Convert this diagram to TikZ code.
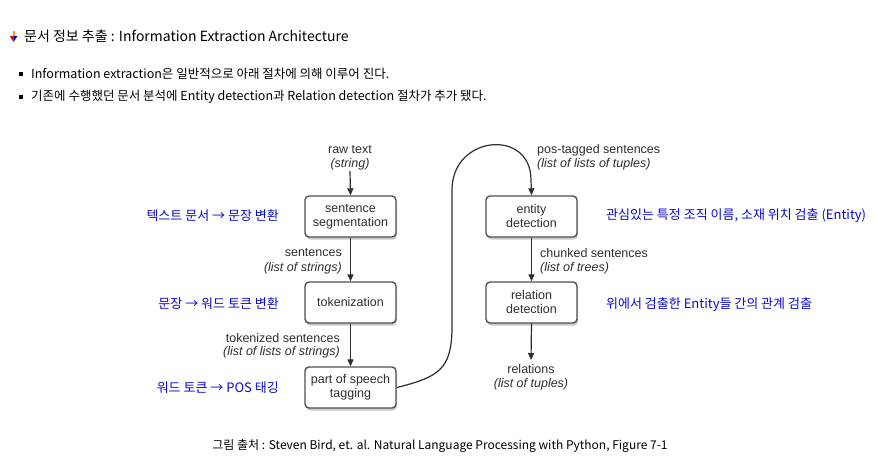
\documentclass[tikz,border=0pt]{standalone}
\usepackage{fontspec}
\setmainfont{Noto Sans CJK KR}
\newfontfamily\diagfont{Liberation Sans}
\usetikzlibrary{arrows.meta,shadows,positioning}
\definecolor{labgray}{HTML}{2E2E2E}
\definecolor{boxline}{HTML}{505050}
\definecolor{bluetxt}{RGB}{10,10,205}
\begin{document}
\begin{tikzpicture}[x=1pt,y=-1pt,
  procbox/.style={draw=boxline,line width=1.4pt,rounded corners=4pt,fill=white,
    minimum width=91pt,minimum height=41pt,inner sep=0pt,align=center,
    font=\diagfont\fontsize{12.5}{14}\selectfont,text=labgray,
    drop shadow={shadow xshift=1pt,shadow yshift=-2.5pt,opacity=0.35,fill=black!60}},
  dlabel/.style={font=\diagfont\fontsize{12.5}{14}\selectfont,text=labgray,inner sep=0pt},
  dital/.style={font=\diagfont\itshape\fontsize{12.5}{14}\selectfont,text=labgray,inner sep=0pt},
  blabel/.style={font=\fontsize{13}{15}\selectfont,text=bluetxt,inner sep=0pt},
  flow/.style={draw=labgray,line width=1.2pt,-{Triangle[length=7pt,width=6pt]}},
  bodytxt/.style={font=\fontsize{12.5}{14}\selectfont,inner sep=0pt,anchor=west},
]
\useasboundingbox[fill=white] (0,0) rectangle (878,456);

% title icon
\fill[orange!80!yellow] (12.6,30.5) rectangle (14.6,36.5);
\fill[red!80!black] (9.8,36) -- (13.6,36) -- (13.6,42) -- cycle;
\fill[blue!70!black] (13.6,36) -- (17.4,36) -- (13.6,42) -- cycle;
\node[font=\fontsize{14}{16}\selectfont,inner sep=0pt,anchor=west] (title) at (24,36) {문서 정보 추출 : Information Extraction Architecture};

% bullets
\fill (18.5,71.5) rectangle (22.5,75.5);
\fill (18.5,94.5) rectangle (22.5,98.5);
\node[bodytxt] (b1) at (31,74) {Information extraction은 일반적으로 아래 절차에 의해 이루어 진다.};
\node[bodytxt] (b2) at (31,97) {기존에 수행했던 문서 분석에 Entity detection과 Relation detection 절차가 추가 됐다.};

% boxes
\node[procbox] (seg) at (350.5,216.5) {sentence\\segmentation};
\node[procbox] (tok) at (350.5,302.5) {tokenization};
\node[procbox] (pos) at (350.5,387.5) {part of speech\\tagging};
\node[procbox] (ent) at (531.5,216.5) {entity\\detection};
\node[procbox] (rel) at (531.5,302.5) {relation\\detection};

% data labels
\node[dlabel] (rawa) at (350,150) {raw text};
\node[dital] (rawb) at (350,164) {(string)};
\coordinate (rawend) at (350,171);
\node[dlabel,anchor=east] (senta) at (342,253) {sentences};
\node[dital,anchor=east] (sentb) at (342,268) {(list of strings)};
\node[dlabel,anchor=east] (toka) at (340,338) {tokenized sentences};
\node[dital,anchor=east] (tokb) at (340,352) {(list of lists of strings)};
\node[dlabel,anchor=west] (posa) at (537,150) {pos-tagged sentences};
\node[dital,anchor=west] (posb) at (537,164) {(list of lists of tuples)};
\node[dlabel,anchor=west] (chka) at (540,253) {chunked sentences};
\node[dital,anchor=west] (chkb) at (540,268) {(list of trees)};
\node[dlabel] (rela) at (531,369) {relations};
\node[dital] (relb) at (531,384) {(list of tuples)};
\coordinate (relend) at (531,360);

% connectors
\draw[flow] (rawend) -- (seg.north);
\draw[flow] (seg.south) -- (tok.north);
\draw[flow] (tok.south) -- (pos.north);
\draw[flow] (ent.south) -- (rel.north);
\draw[flow] (rel.south) -- (relend);
\draw[flow] (pos.east) .. controls (440,377) and (451,368) .. (452,330)
  -- (452,190) .. controls (452,135) and (531,128) .. (531,180) -- (ent.north);

% blue notes
\node[blabel,anchor=east] (n1) at (279,216) {텍스트 문서 → 문장 변환};
\node[blabel,anchor=east] (n2) at (279,304) {문장 → 워드 토큰 변환};
\node[blabel,anchor=east] (n3) at (279,388) {워드 토큰 → POS 태깅};
\node[blabel,anchor=west] (n4) at (606,216) {관심있는 특정 조직 이름, 소재 위치 검출 (Entity)};
\node[blabel,anchor=west] (n5) at (606,305) {위에서 검출한 Entity들 간의 관계 검출};

% caption
\node[font=\fontsize{12}{14}\selectfont,inner sep=0pt] (cap) at (440,446) {그림 출처 : Steven Bird, et. al. Natural Language Processing with Python, Figure 7-1};
\end{tikzpicture}
\end{document}
